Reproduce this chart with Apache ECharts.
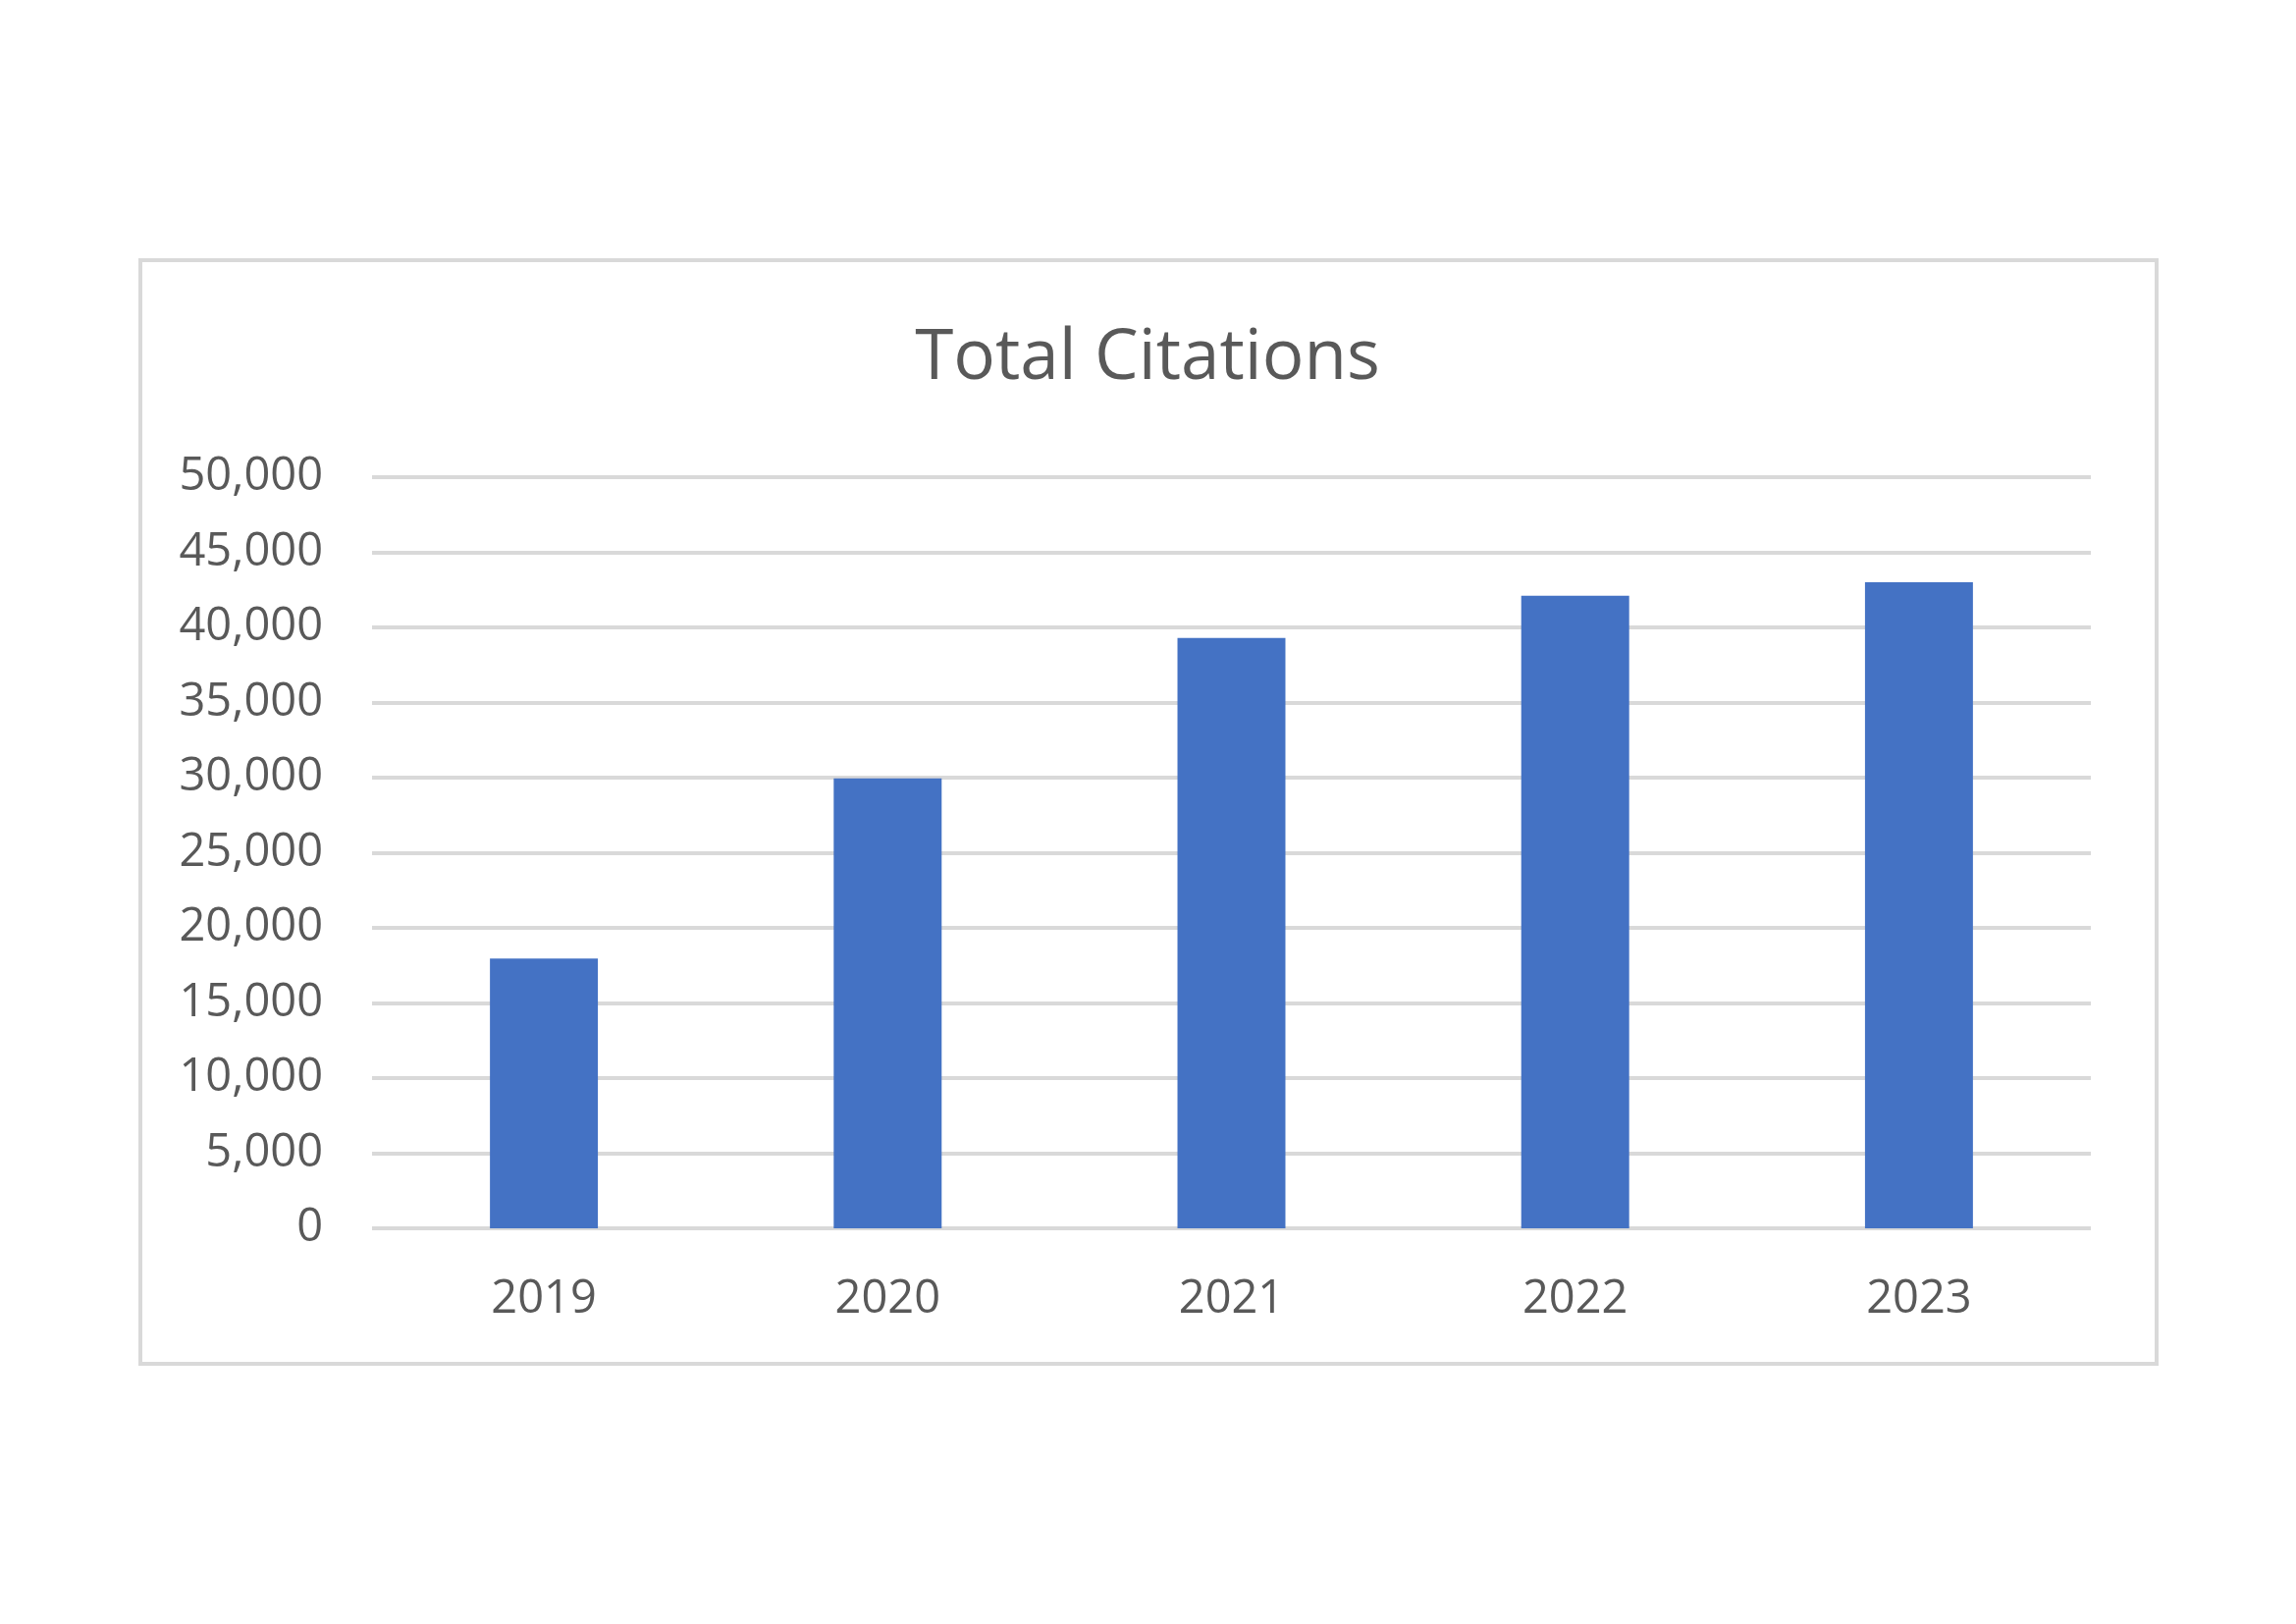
<!DOCTYPE html>
<html>
<head>
<meta charset="utf-8">
<title>Total Citations</title>
<script src="https://cdn.jsdelivr.net/npm/echarts@6/dist/echarts.min.js"></script>
<style>
  html, body { margin: 0; padding: 0; background: #fff; }
  #chart { width: 2339px; height: 1654px; }
</style>
</head>
<body>
<div id="chart"></div>
<script>
// data
var years = ['2019', '2020', '2021', '2022', '2023']
var citations = [17950, 29950, 39300, 42100, 43000]
var yTicks = { min: 0, max: 50000, interval: 5000 }

var textColor = '#595959'
var lineColor = '#d9d9d9'
var fontFamily = '"Open Sans", "Noto Sans", sans-serif'

var chart = echarts.init(document.getElementById('chart'))

chart.setOption({
  backgroundColor: '#fff',
  animation: false,
  // the outer chart frame
  graphic: [{
    type: 'rect',
    shape: { x: 143, y: 265, width: 2054, height: 1124 },
    style: { fill: 'none', stroke: lineColor, lineWidth: 4 },
    silent: true
  }],
  title: {
    text: 'Total Citations',
    left: 1164,
    top: 325,
    textAlign: 'center',
    textStyle: {
      color: textColor,
      fontFamily: fontFamily,
      fontWeight: 'normal',
      fontSize: 71
    }
  },
  grid: {
    left: 379,
    right: 209,
    top: 486,
    bottom: 403,
    containLabel: false
  },
  xAxis: {
    type: 'category',
    data: years,
    axisLine: { show: false },
    axisTick: { show: false },
    axisLabel: {
      color: textColor,
      fontFamily: fontFamily,
      fontSize: 47,
      margin: 49
    }
  },
  yAxis: {
    type: 'value',
    min: yTicks.min,
    max: yTicks.max,
    interval: yTicks.interval,
    axisLine: { show: false },
    axisTick: { show: false },
    axisLabel: {
      color: textColor,
      fontFamily: fontFamily,
      fontSize: 47,
      margin: 50,
      formatter: function (v) { return v.toLocaleString('en-US') }
    },
    splitLine: { lineStyle: { color: lineColor, width: 4 } }
  },
  series: [{
    type: 'bar',
    data: citations,
    barWidth: '31.4%',
    itemStyle: { color: '#4472c4' }
  }]
})
</script>
</body>
</html>
